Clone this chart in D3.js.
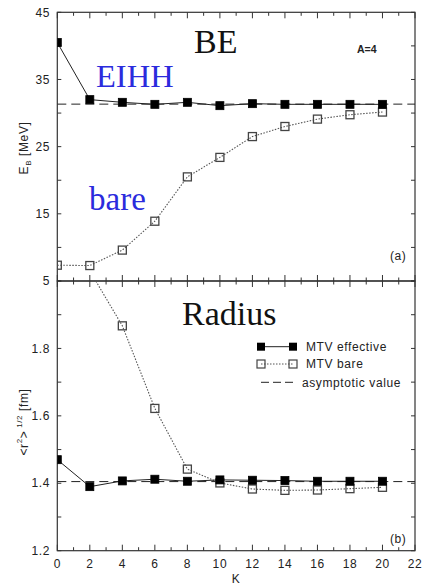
<!DOCTYPE html>
<html>
<head>
<meta charset="utf-8">
<script src="https://cdn.jsdelivr.net/npm/d3@7/dist/d3.min.js"></script>
<style>
  html, body { margin: 0; padding: 0; background: #fff; }
  svg { display: block; font-family: "Liberation Sans", Arial, sans-serif; }
  .serif { font-family: "Liberation Serif", "Times New Roman", serif; }
  .small { font-size: 12px; letter-spacing: 0.6px; fill: #222; }
</style>
</head>
<body>
<svg id="chart" width="423" height="585"></svg>
<script>
// Hyperspherical harmonics expansion: convergence in K for A=4
const kValues = [0, 2, 4, 6, 8, 10, 12, 14, 16, 18, 20];

// (a) binding energy [MeV]
const beEffective = [40.5, 32.0, 31.6, 31.3, 31.6, 31.1, 31.4, 31.3, 31.3, 31.3, 31.3];
const beBare      = [7.35, 7.3, 9.6, 13.9, 20.5, 23.4, 26.5, 28.0, 29.1, 29.75, 30.15];
const beAsymptote = 31.33;

// (b) rms radius [fm]
const rEffective = [1.47, 1.39, 1.407, 1.412, 1.406, 1.41, 1.409, 1.408, 1.406, 1.406, 1.406];
const rBareK     = [2, 4, 6, 8, 10, 12, 14, 16, 18, 20];
const rBare      = [2.03, 1.867, 1.622, 1.442, 1.401, 1.383, 1.379, 1.380, 1.384, 1.388];
const rAsymptote = 1.405;

const beTicks = [5, 15, 25, 35, 45];
const rTicks = [1.2, 1.4, 1.6, 1.8];
const kTicks = [0, 2, 4, 6, 8, 10, 12, 14, 16, 18, 20, 22];
const legendLabels = ["MTV effective", "MTV bare", "asymptotic value"];

const svg = d3.select("#chart");
const left = 57.3, right = 415;
const x = d3.scaleLinear().domain([0, 22]).range([left, right]);
const yTop = d3.scaleLinear().domain([5, 45]).range([281, 12.3]);
const yBot = d3.scaleLinear().domain([1.2, 2.0]).range([550.7, 281]);

const frameColor = "#333";
const markSize = 8;

function panel(id, y, majorTicks, minorStep, clipTop, clipBottom) {
  const g = svg.append("g");
  svg.append("clipPath").attr("id", id)
    .append("rect").attr("x", left).attr("y", clipTop)
    .attr("width", right - left).attr("height", clipBottom - clipTop);

  const [d0, d1] = y.domain();
  // ticks on the left and right edges
  d3.range(d0, d1 + 1e-9, minorStep).forEach(v => {
    g.append("line").attr("x1", left).attr("x2", left + 4)
      .attr("y1", y(v)).attr("y2", y(v)).attr("stroke", frameColor);
    g.append("line").attr("x1", right).attr("x2", right - 4)
      .attr("y1", y(v)).attr("y2", y(v)).attr("stroke", frameColor);
  });
  // K ticks on the top and bottom edges
  d3.range(0, 23, 1).forEach(k => {
    const len = k % 2 === 0 ? 6 : 3.5;
    g.append("line").attr("x1", x(k)).attr("x2", x(k))
      .attr("y1", y.range()[1]).attr("y2", y.range()[1] + len).attr("stroke", frameColor);
    g.append("line").attr("x1", x(k)).attr("x2", x(k))
      .attr("y1", y.range()[0]).attr("y2", y.range()[0] - len).attr("stroke", frameColor);
  });
  g.append("rect").attr("x", left).attr("y", y.range()[1])
    .attr("width", right - left).attr("height", y.range()[0] - y.range()[1])
    .attr("fill", "none").attr("stroke", frameColor).attr("stroke-width", 1.2);

  g.selectAll(".ylab").data(majorTicks).enter().append("text")
    .attr("class", "small")
    .attr("x", 50).attr("y", d => y(d) + 4.2)
    .attr("text-anchor", "end")
    .text(d => d3.format(Number.isInteger(d) ? "d" : ".1f")(d));

  return svg.append("g").attr("clip-path", `url(#${id})`);
}

function drawSeries(plot, y, ks, vals, filled) {
  const pts = ks.map((k, i) => [k, vals[i]]);
  const line = d3.line().x(d => x(d[0])).y(d => y(d[1]));
  plot.append("path").attr("d", line(pts)).attr("fill", "none")
    .attr("stroke", filled ? "#222" : "#555")
    .attr("stroke-width", filled ? 1 : 1.1)
    .attr("stroke-dasharray", filled ? null : "1.5,1.5");
  plot.selectAll(null).data(pts).enter().append("rect")
    .attr("x", d => x(d[0]) - markSize / 2).attr("y", d => y(d[1]) - markSize / 2)
    .attr("width", markSize).attr("height", markSize)
    .attr("fill", filled ? "#000" : "none")
    .attr("stroke", filled ? "#000" : "#444")
    .attr("stroke-width", filled ? 0.8 : 1.3);
}

function asymptote(plot, y, v) {
  plot.append("line").attr("x1", left).attr("x2", right)
    .attr("y1", y(v)).attr("y2", y(v))
    .attr("stroke", "#222").attr("stroke-width", 1).attr("stroke-dasharray", "9,5");
}

// (a) binding energy
const pTop = panel("clipTop", yTop, beTicks, 5, 0, 281);
asymptote(pTop, yTop, beAsymptote);
drawSeries(pTop, yTop, kValues, beBare, false);
drawSeries(pTop, yTop, kValues, beEffective, true);

// (b) radius
const pBot = panel("clipBot", yBot, rTicks, 0.1, 281, 551);
asymptote(pBot, yBot, rAsymptote);
drawSeries(pBot, yBot, rBareK, rBare, false);
drawSeries(pBot, yBot, kValues, rEffective, true);

// K axis labels
svg.selectAll(".xlab").data(kTicks).enter().append("text")
  .attr("class", "small")
  .attr("x", d => x(d)).attr("y", 567.5).attr("text-anchor", "middle").text(d => d);
svg.append("text").attr("class", "small").attr("x", x(11)).attr("y", 583)
  .attr("text-anchor", "middle").text("K");

// y axis titles
const yt1 = svg.append("text").attr("class", "small")
  .attr("transform", "translate(28,148) rotate(-90)").attr("text-anchor", "middle");
yt1.append("tspan").text("E");
yt1.append("tspan").attr("font-size", 8).attr("dy", 3).text("B");
yt1.append("tspan").attr("dy", -3).text(" [MeV]");

const yt2 = svg.append("text").attr("class", "small")
  .attr("transform", "translate(28,422) rotate(-90)").attr("text-anchor", "middle");
yt2.append("tspan").text("<r");
yt2.append("tspan").attr("font-size", 8).attr("dy", -6).text("2");
yt2.append("tspan").attr("dy", 6).text(">");
yt2.append("tspan").attr("font-size", 8).attr("dy", -6).text(" 1/2");
yt2.append("tspan").attr("dy", 6).text(" [fm]");

// panel annotations
svg.append("text").attr("class", "serif").attr("x", 194).attr("y", 53)
  .attr("font-size", 34).attr("fill", "#111").text("BE");
svg.append("text").attr("class", "serif").attr("x", 96).attr("y", 87)
  .attr("font-size", 32.5).attr("fill", "#2b2bdd").text("EIHH");
svg.append("text").attr("class", "serif").attr("x", 89).attr("y", 210)
  .attr("font-size", 33).attr("fill", "#2b2bdd").text("bare");
svg.append("text").attr("class", "serif").attr("x", 182).attr("y", 325)
  .attr("font-size", 34).attr("fill", "#111").text("Radius");
svg.append("text").attr("x", 357).attr("y", 53).attr("font-size", 10.5)
  .attr("font-weight", "bold").attr("fill", "#222").text("A=4");
svg.append("text").attr("class", "small").attr("x", 390).attr("y", 260).text("(a)");
svg.append("text").attr("class", "small").attr("x", 390).attr("y", 543).text("(b)");

// legend
const lg = svg.append("g");
const rows = [346.7, 364, 382.3];
lg.append("line").attr("x1", 261).attr("x2", 293).attr("y1", rows[0]).attr("y2", rows[0])
  .attr("stroke", "#222");
[261, 293].forEach(cx => lg.append("rect").attr("x", cx - 4).attr("y", rows[0] - 4)
  .attr("width", 8).attr("height", 8).attr("fill", "#000"));
lg.append("line").attr("x1", 261).attr("x2", 293).attr("y1", rows[1]).attr("y2", rows[1])
  .attr("stroke", "#555").attr("stroke-dasharray", "1.5,1.5");
[261, 293].forEach(cx => lg.append("rect").attr("x", cx - 4).attr("y", rows[1] - 4)
  .attr("width", 8).attr("height", 8).attr("fill", "none").attr("stroke", "#444").attr("stroke-width", 1.2));
lg.append("line").attr("x1", 261).attr("x2", 293).attr("y1", rows[2]).attr("y2", rows[2])
  .attr("stroke", "#222").attr("stroke-dasharray", "8,4");
legendLabels.forEach((t, i) => lg.append("text").attr("class", "small")
  .attr("x", i === 2 ? 302 : 306).attr("y", rows[i] + 4.2).text(t));
</script>
</body>
</html>
